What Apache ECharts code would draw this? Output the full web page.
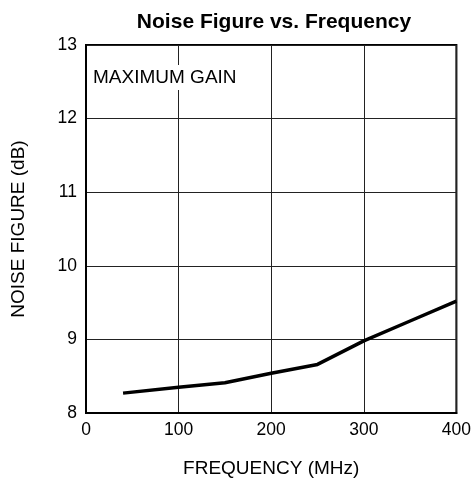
<!DOCTYPE html>
<html><head><meta charset="utf-8">
<script src="https://cdn.jsdelivr.net/npm/echarts@6/dist/echarts.min.js"></script>
<style>html,body{margin:0;padding:0;background:#fff}#c{width:474px;height:483px}</style>
</head><body><div id="c"></div>
<script>
const frequency = [40, 100, 150, 200, 250, 300, 350, 400];
const noiseFigure = [8.27, 8.35, 8.41, 8.54, 8.66, 8.98, 9.25, 9.52];
const titleText = 'Noise Figure vs. Frequency';
const annotation = 'MAXIMUM GAIN';
const ff = 'Liberation Sans, Arial, sans-serif';
const chart = echarts.init(document.getElementById('c'));
chart.setOption({
  backgroundColor: '#fff',
  animation: false,
  title: { text: titleText, left: 269, textAlign: 'center', top: 7,
    textStyle: { fontFamily: ff, fontSize: 21, fontWeight: 'bold', color: '#000' } },
  grid: { left: 86, top: 45, right: 16, bottom: 65.5, show: true, borderColor: '#000', borderWidth: 2, backgroundColor: 'transparent' },
  xAxis: { type: 'value', min: 0, max: 400, interval: 100,
    name: 'FREQUENCY (MHz)', nameLocation: 'middle', nameGap: 46,
    nameTextStyle: { fontFamily: ff, fontSize: 19, color: '#000' },
    axisLine: { lineStyle: { color: '#000', width: 2 } }, axisTick: { show: false },
    axisLabel: { fontFamily: ff, fontSize: 17.5, color: '#000', margin: 8 },
    splitLine: { lineStyle: { color: '#222', width: 1 } } },
  yAxis: { type: 'value', min: 8, max: 13, interval: 1,
    name: 'NOISE FIGURE (dB)', nameLocation: 'middle', nameGap: 58, nameRotate: 90,
    nameTextStyle: { fontFamily: ff, fontSize: 19, color: '#000' },
    axisLine: { lineStyle: { color: '#000', width: 2 } }, axisTick: { show: false },
    axisLabel: { fontFamily: ff, fontSize: 17.5, color: '#000', margin: 9 },
    splitLine: { lineStyle: { color: '#222', width: 1 } } },
  graphic: [{ type: 'text', left: 92, top: 65, z: 100,
    style: { text: annotation, font: '19px ' + ff, fill: '#000', backgroundColor: '#fff', padding: [3, 1] } }],
  series: [{ type: 'line', data: frequency.map((f, i) => [f, noiseFigure[i]]),
    showSymbol: false, lineStyle: { color: '#000', width: 3.5 }, z: 10 }]
});
</script></body></html>
